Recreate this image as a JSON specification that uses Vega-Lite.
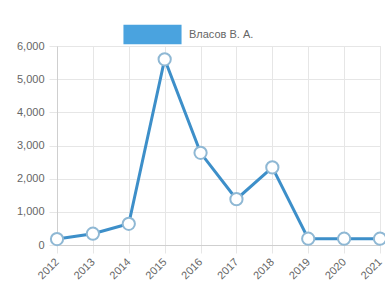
{
  "$schema": "https://vega.github.io/schema/vega-lite/v6.json",
  "width": 323,
  "height": 199,
  "autosize": {"type": "none"},
  "padding": {"left": 57, "top": 46, "right": 5, "bottom": 39},
  "background": "white",
  "data": {"values": [
    {"year": "2012", "value": 180, "name": "Власов В. А."},
    {"year": "2013", "value": 340, "name": "Власов В. А."},
    {"year": "2014", "value": 640, "name": "Власов В. А."},
    {"year": "2015", "value": 5600, "name": "Власов В. А."},
    {"year": "2016", "value": 2780, "name": "Власов В. А."},
    {"year": "2017", "value": 1380, "name": "Власов В. А."},
    {"year": "2018", "value": 2340, "name": "Власов В. А."},
    {"year": "2019", "value": 190, "name": "Власов В. А."},
    {"year": "2020", "value": 190, "name": "Власов В. А."},
    {"year": "2021", "value": 190, "name": "Власов В. А."}
  ]},
  "encoding": {
    "x": {"field": "year", "type": "ordinal", "scale": {"type": "point", "padding": 0},
      "axis": {"title": null, "labelAngle": -45, "labelAlign": "right", "labelBaseline": "middle", "labelPadding": 7, "tickSize": 8, "grid": true, "gridColor": "#e6e6e6", "tickColor": "#e6e6e6", "domainColor": "#cfcfcf", "labelColor": "#666", "labelFont": "Liberation Sans", "labelFontSize": 11}},
    "y": {"field": "value", "type": "quantitative", "scale": {"domain": [0, 6000], "nice": false},
      "axis": {"title": null, "values": [0, 1000, 2000, 3000, 4000, 5000, 6000], "format": ",.0f", "tickSize": 8, "labelPadding": 5, "grid": true, "gridColor": "#e6e6e6", "tickColor": "#e6e6e6", "domainColor": "#cfcfcf", "labelColor": "#666", "labelFont": "Liberation Sans", "labelFontSize": 11}}
  },
  "layer": [
    {
      "mark": {"type": "line", "strokeWidth": 3, "color": "#3d8fc9"},
      "encoding": {
        "color": {"field": "name", "type": "nominal", "scale": {"range": ["#3d8fc9"]},
          "legend": {"title": null, "orient": "none", "legendX": 76, "legendY": -31, "symbolType": "M-1.5,-0.5H1.5V0.5H-1.5Z", "symbolSize": 1500, "symbolFillColor": "#4aa3df", "symbolStrokeWidth": 0, "symbolOpacity": 1, "labelFont": "Liberation Sans", "labelFontSize": 11, "labelColor": "#666", "labelOffset": 17}}
      }
    },
    {
      "mark": {"type": "point", "filled": true, "fill": "white", "stroke": "#8fb8d4", "strokeWidth": 2, "size": 150, "opacity": 1}
    }
  ]
}
